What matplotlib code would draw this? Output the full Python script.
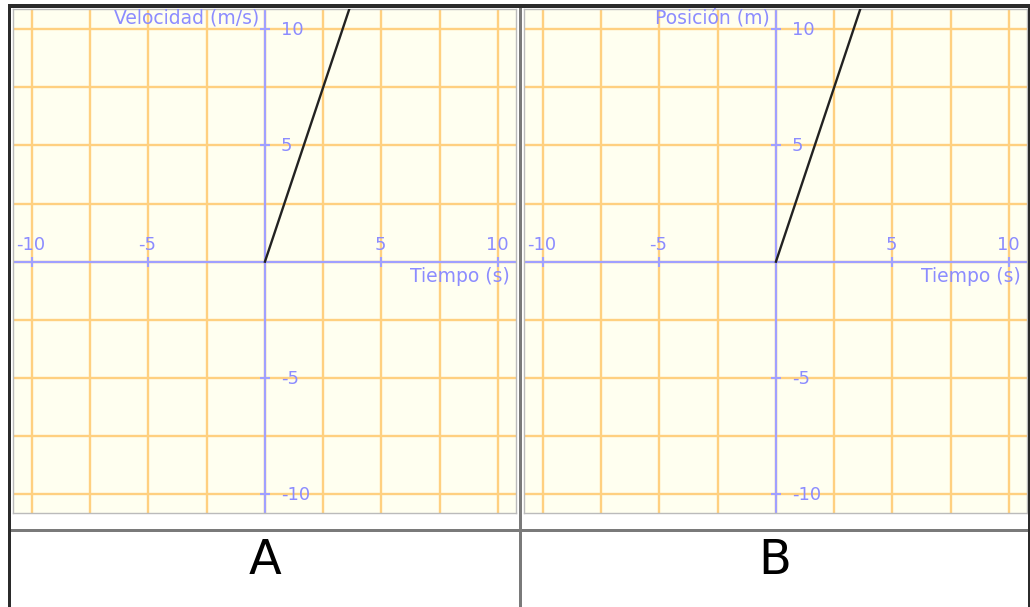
import matplotlib
matplotlib.use("Agg")
import matplotlib.pyplot as plt
from matplotlib.patches import Rectangle

# Data
t_vals = [0, 4]
velocidad = [0, 12]
posicion = [0, 12]
tick_vals = [-10, -5, 5, 10]
grid_vals = [-10, -7.5, -5, -2.5, 0, 2.5, 5, 7.5, 10]
panel_names = ["A", "B"]
y_titles = ["Velocidad (m/s)", "Posición (m)"]
x_title = "Tiempo (s)"

W, H = 1030, 607
BG = "#fffff0"
GRID = "#ffd080"
AXIS = "#a0a0ff"
TEXT = "#8c8cff"

fig = plt.figure(figsize=(W / 100, H / 100), dpi=100)
fig.patch.set_facecolor("white")


def px_rect(x0, y0, x1, y1, color):
    # rectangle given in image pixels (origin top-left)
    fig.add_artist(Rectangle((x0 / W, 1 - y1 / H), (x1 - x0) / W, (y1 - y0) / H,
                             transform=fig.transFigure, facecolor=color,
                             edgecolor="none", zorder=5))


def draw_panel(left, yvals, ytitle):
    ax = fig.add_axes([left / W, (H - 513) / H, 503 / W, 504 / H])
    ax.set_facecolor(BG)
    ax.set_xlim(-10.83, 10.75)
    ax.set_ylim(-10.8, 10.86)
    ax.set_xticks(grid_vals)
    ax.set_yticks(grid_vals)
    ax.tick_params(length=0, labelbottom=False, labelleft=False)
    ax.grid(True, color=GRID, lw=1.7)
    ax.set_axisbelow(True)
    for s in ax.spines.values():
        s.set_color("#bbbbbb")
        s.set_linewidth(1.0)

    ax.axhline(0, color=AXIS, lw=1.6, zorder=2)
    ax.axvline(0, color=AXIS, lw=1.6, zorder=2)
    ax.plot(tick_vals, [0] * len(tick_vals), ls="none", marker="|",
            ms=6.5, mew=1.5, color=AXIS, zorder=2)
    ax.plot([0] * len(tick_vals), tick_vals, ls="none", marker="_",
            ms=6.5, mew=1.5, color=AXIS, zorder=2)

    for v in tick_vals:
        ax.annotate(str(v), (v, 0), xytext=(-1, 8), textcoords="offset pixels",
                    ha="center", va="bottom", color=TEXT, fontsize=13)
        ax.annotate(str(v), (0, v), xytext=(16, -1), textcoords="offset pixels",
                    ha="left", va="center", color=TEXT, fontsize=13)

    ax.annotate(x_title, (1, 0), xycoords=ax.get_yaxis_transform(),
                xytext=(-6, -5), textcoords="offset pixels",
                ha="right", va="top", color=TEXT, fontsize=13.5)
    ax.annotate(ytitle, (0, 1), xycoords=ax.get_xaxis_transform(),
                xytext=(-6, 0), textcoords="offset pixels",
                ha="right", va="top", color=TEXT, fontsize=13.5)

    ax.plot(t_vals, yvals, color="#222222", lw=1.7, zorder=3)
    return ax


draw_panel(12.5, velocidad, y_titles[0])
draw_panel(523.5, posicion, y_titles[1])

# table lines
px_rect(8, 3.7, 1030, 7.7, "#2b2b2b")
px_rect(8, 3.7, 11, 607, "#2b2b2b")
px_rect(1028, 3.7, 1030, 607, "#2b2b2b")
px_rect(519.3, 7.7, 522.3, 607, "#7a7a7a")
px_rect(11, 529, 1028, 532, "#7a7a7a")

fig.text(265 / W, 1 - 560 / H, panel_names[0], ha="center", va="center",
         fontsize=34.5, color="black")
fig.text(775 / W, 1 - 560 / H, panel_names[1], ha="center", va="center",
         fontsize=34.5, color="black")

fig.savefig("out.png", dpi=100, facecolor="white")
